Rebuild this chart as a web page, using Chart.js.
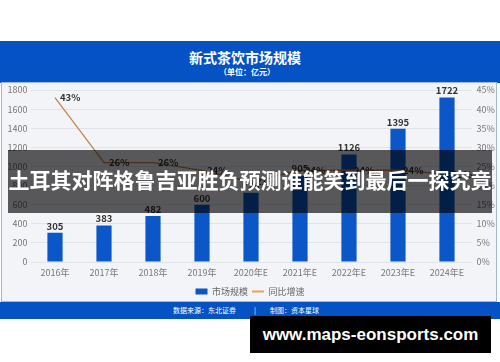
<!DOCTYPE html>
<html>
<head>
<meta charset="utf-8">
<script src="https://cdn.jsdelivr.net/npm/chart.js@4/dist/chart.umd.min.js"></script>
<style>
  html, body { margin:0; padding:0; width:500px; height:362px; overflow:hidden; background:#fff; }
  body { position:relative; font-family:"Noto Sans CJK SC", "Noto Sans", sans-serif; }
  #header { position:absolute; left:0; top:41px; width:500px; height:42px; background:#0452c3; color:#fff; text-align:center; }
  #title { position:absolute; left:0; width:490px; top:8px; font-size:14px; font-weight:bold; line-height:16px; }
  #subtitle { position:absolute; left:0; width:494px; top:26px; font-size:8px; font-weight:bold; line-height:10px; }
  #panel { position:absolute; left:1px; top:82px; width:496px; height:220px; background:#f3f4f8; border:1px solid #9bb8e6; box-sizing:border-box; }
  #wrap { position:absolute; left:3px; top:83px; width:494px; height:223px; }
  #footer { position:absolute; left:0; top:302px; width:500px; height:17px; background:#0452c3; color:#fff; font-size:7px; line-height:17px; }
  #footer span { position:absolute; top:0; }
  #banner { position:absolute; left:8px; top:150px; width:484px; height:63px; background:rgba(0,0,0,0.64); color:#fff; font-size:21px; font-weight:bold; line-height:63px; text-align:center; white-space:nowrap; }
  #banner div { position:relative; top:-2px; }
  #wm { position:absolute; left:250px; top:316px; width:241px; height:37px; background:#000; color:#fff; font-family:"Liberation Sans", Arial, sans-serif; font-weight:bold; font-size:17px; line-height:37px; text-align:center; }
</style>
</head>
<body>
<div id="header"><div id="title">新式茶饮市场规模</div><div id="subtitle">（单位：亿元）</div></div>
<div id="panel"></div>
<div id="wrap"><canvas id="c" width="494" height="223"></canvas></div>
<div id="footer"><span style="left:173px">数据来源：东北证券</span><span style="left:254px">|</span><span style="left:270px">制图：资本星球</span></div>
<div id="banner"><div>土耳其对阵格鲁吉亚胜负预测谁能笑到最后一探究竟</div></div>
<div id="wm">www.maps-eonsports.com</div>
<script>
const years = ['2016年','2017年','2018年','2019年','2020年E','2021年E','2022年E','2023年E','2024年E'];
const marketSize = [305, 383, 482, 600, 726, 905, 1126, 1395, 1722];
const growthRate = [43, 26, 26, 24, 21, 24, 24, 24, 23];
const leftTicks = [0, 200, 400, 600, 800, 1000, 1200, 1400, 1600, 1800];
const rightTicks = [0, 5, 10, 15, 20, 25, 30, 35, 40, 45];

const BAR_COLOR = '#0b57c8';
const LINE_COLOR = '#c4844a';
const FONT = '"Noto Sans CJK SC", "Noto Sans", sans-serif';

const labelPlugin = {
  id: 'valueLabels',
  afterDatasetsDraw(chart) {
    const ctx = chart.ctx;
    ctx.save();
    ctx.fillStyle = '#333';
    ctx.font = 'bold 9.5px ' + FONT;
    const barMeta = chart.getDatasetMeta(0);
    ctx.textAlign = 'center';
    ctx.textBaseline = 'bottom';
    barMeta.data.forEach((el, i) => {
      ctx.fillText(String(marketSize[i]), el.x, el.y - 2);
    });
    const lineMeta = chart.getDatasetMeta(1);
    ctx.textAlign = 'left';
    ctx.textBaseline = 'middle';
    lineMeta.data.forEach((el, i) => {
      ctx.fillText(growthRate[i] + '%', el.x + 5, el.y);
    });
    ctx.restore();
  }
};

new Chart(document.getElementById('c'), {
  data: {
    labels: years,
    datasets: [
      {
        type: 'bar', label: '市场规模', data: marketSize, yAxisID: 'y',
        backgroundColor: BAR_COLOR, barPercentage: 0.31, categoryPercentage: 1, order: 2
      },
      {
        type: 'line', label: '同比增速', data: growthRate, yAxisID: 'y1',
        borderColor: LINE_COLOR, borderWidth: 1.3, pointRadius: 0, tension: 0, fill: false, order: 1
      }
    ]
  },
  options: {
    responsive: false,
    devicePixelRatio: 1,
    animation: false,
    layout: { padding: { top: 7, bottom: 0, left: 0, right: 0 } },
    plugins: {
      tooltip: { enabled: false },
      legend: {
        position: 'bottom',
        labels: {
          usePointStyle: true,
          pointStyleWidth: 12,
          boxHeight: 6,
          padding: 4,
          color: '#666',
          font: { family: FONT, size: 9 },
          generateLabels(chart) {
            return [
              { text: '市场规模', fillStyle: BAR_COLOR, strokeStyle: BAR_COLOR, lineWidth: 0, pointStyle: 'rect', datasetIndex: 0, fontColor: '#666' },
              { text: '同比增速', fillStyle: LINE_COLOR, strokeStyle: '#f0a050', lineWidth: 2, pointStyle: 'line', datasetIndex: 1, fontColor: '#666' }
            ];
          }
        }
      }
    },
    scales: {
      x: {
        grid: { display: false, drawTicks: false },
        border: { display: false },
        ticks: { color: '#777', font: { family: FONT, size: 9 }, padding: 5, maxRotation: 0 },
        afterFit(s) { s.height = 21; }
      },
      y: {
        position: 'left', min: 0, max: 1800,
        grid: { color: '#e1e3ea', drawTicks: false },
        border: { display: false },
        afterBuildTicks(s) { s.ticks = leftTicks.map(v => ({ value: v })); },
        ticks: { color: '#777', font: { family: FONT, size: 9 }, padding: 3, callback: v => String(v) },
        afterFit(s) { s.width = 27.5; s.paddingTop = 0; s.paddingBottom = 0; }
      },
      y1: {
        position: 'right', min: 0, max: 45,
        grid: { display: false, drawTicks: false },
        border: { display: false },
        afterBuildTicks(s) { s.ticks = rightTicks.map(v => ({ value: v })); },
        ticks: { color: '#777', font: { family: FONT, size: 9 }, padding: 5, callback: v => v + '%' },
        afterFit(s) { s.width = 25.5; s.paddingTop = 0; s.paddingBottom = 0; }
      }
    }
  },
  plugins: [labelPlugin]
});
</script>
</body>
</html>
